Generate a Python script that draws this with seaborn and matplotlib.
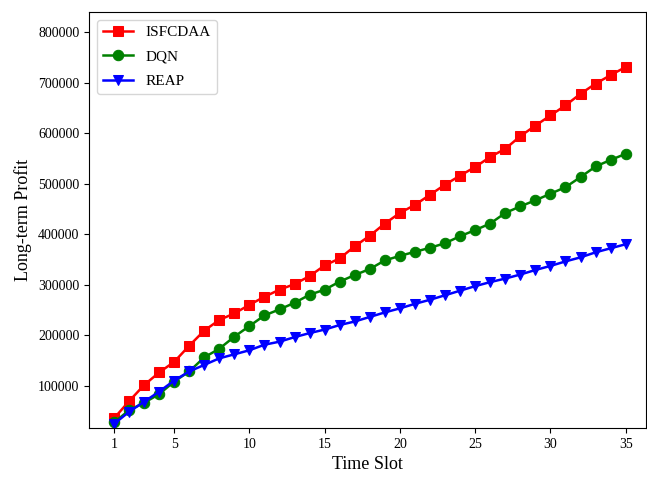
import matplotlib
matplotlib.use("Agg")
import matplotlib.pyplot as plt
import seaborn as sns
import pandas as pd

plt.rcParams["font.family"] = ["Liberation Serif", "DejaVu Serif"]

time_slots = list(range(1, 36))

isfcdaa = [35000, 69000, 101000, 126000, 147000, 179000, 209000, 230000, 243000, 260000,
           276000, 290000, 301000, 317000, 338000, 352000, 376000, 397000, 421000, 442000,
           458000, 478000, 498000, 516000, 533000, 553000, 569000, 594000, 615000, 635000,
           655000, 678000, 698000, 715000, 731000]

dqn = [27000, 51000, 66000, 83000, 108000, 128000, 156000, 173000, 197000, 218000,
       239000, 251000, 264000, 280000, 290000, 306000, 319000, 331000, 348000, 357000,
       365000, 373000, 382000, 396000, 408000, 421000, 442000, 455000, 467000, 480000,
       493000, 513000, 534000, 547000, 559000]

reap = [24000, 48000, 68000, 88000, 110000, 128000, 141000, 154000, 162000, 170000,
        181000, 187000, 196000, 204000, 211000, 220000, 227000, 236000, 245000, 253000,
        262000, 270000, 279000, 288000, 297000, 305000, 312000, 320000, 329000, 337000,
        346000, 354000, 364000, 372000, 380000]

series = {"ISFCDAA": isfcdaa, "DQN": dqn, "REAP": reap}
colors = {"ISFCDAA": "red", "DQN": "green", "REAP": "blue"}
markers = {"ISFCDAA": "s", "DQN": "o", "REAP": "v"}

df = pd.DataFrame(
    [(t, v, name) for name, vals in series.items() for t, v in zip(time_slots, vals)],
    columns=["Time Slot", "Long-term Profit", "Method"],
)

fig = plt.figure(figsize=(6.47, 4.79), dpi=100)
ax = fig.add_axes([89 / 647, 1 - 428 / 479, (646 - 89) / 647, (428 - 12) / 479])

for name in series:
    sns.lineplot(
        data=df[df["Method"] == name], x="Time Slot", y="Long-term Profit",
        color=colors[name], marker=markers[name], markersize=7.5,
        markeredgecolor=colors[name], linewidth=1.8, label=name, ax=ax,
    )

ax.set_xticks([1, 5, 10, 15, 20, 25, 30, 35])
ax.set_xlim(-0.66, 36.35)
ax.set_ylim(16000, 840000)
ax.set_yticks([100000, 200000, 300000, 400000, 500000, 600000, 700000, 800000])
ax.ticklabel_format(axis="y", style="plain", useOffset=False)
ax.tick_params(labelsize=10)
ax.set_xlabel("Time Slot", fontsize=13)
ax.set_ylabel("Long-term Profit", fontsize=13)
ax.legend(loc="upper left", fontsize=11, labelspacing=0.7)

fig.savefig("out.png", dpi=100)
